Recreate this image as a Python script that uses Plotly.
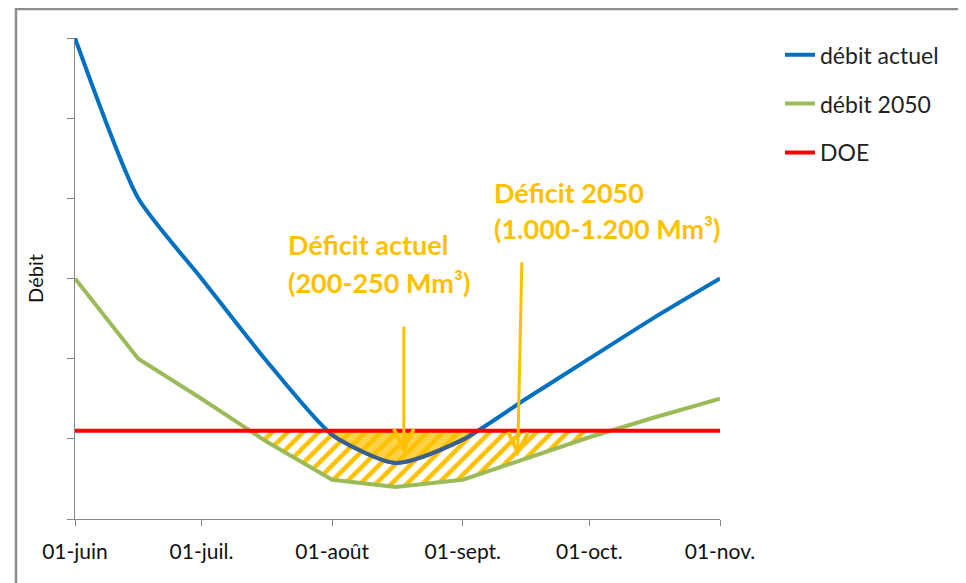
import plotly.graph_objects as go
import pandas as pd

# ---- data ----
dates = ["2020-06-01", "2020-06-16", "2020-07-01", "2020-07-16", "2020-08-01", "2020-08-16",
         "2020-09-01", "2020-09-16", "2020-10-01", "2020-10-16", "2020-11-01"]
debit_actuel = [6.0, 4.0, 3.0, 2.0, 1.05, 0.7, 0.99, 1.5, 2.0, 2.5, 3.0]
debit_2050 = [3.0, 2.0, 1.5, 0.98, 0.49, 0.4, 0.49, 0.75, 1.02, 1.26, 1.5]
doe_value = 1.1
doe = [doe_value] * len(dates)

tick_dates = ["2020-06-01", "2020-07-01", "2020-08-01", "2020-09-01", "2020-10-01", "2020-11-01"]
tick_labels = ["01-juin", "01-juil.", "01-août", "01-sept.", "01-oct.", "01-nov."]
y_ticks = [0, 1, 2, 3, 4, 5, 6]

series_names = ["débit actuel", "débit 2050", "DOE"]
label_actuel = ["Déficit actuel", "(200-250 Mm³)"]
label_2050 = ["Déficit 2050", "(1.000-1.200 Mm³)"]

BLUE = "#0070C0"
GREEN = "#9BBB59"
RED = "#FF0000"
ORANGE = "#FFC000"
DARKBLUE = "#3B5E8E"

ts = pd.to_datetime(dates)
t_num = [(t - ts[0]).days for t in ts]


def below_region(values, level):
    """Points of the series below level, plus the crossing points with level."""
    xs, ys = [], []
    for i in range(len(values)):
        v = values[i]
        if i > 0:
            p = values[i - 1]
            if (p - level) * (v - level) < 0:
                f = (p - level) / (p - v)
                d = t_num[i - 1] + f * (t_num[i] - t_num[i - 1])
                xs.append(ts[0] + pd.Timedelta(days=d))
                ys.append(level)
        if v < level:
            xs.append(ts[i])
            ys.append(v)
    return xs, ys


gx, gy = below_region(debit_2050, doe_value)
bx, by = below_region(debit_actuel, doe_value)

fig = go.Figure()

# hatched deficit 2050
fig.add_trace(go.Scatter(x=[gx[0], gx[-1]], y=[doe_value, doe_value], mode="lines",
                         line=dict(width=0), showlegend=False, hoverinfo="skip"))
fig.add_trace(go.Scatter(x=gx, y=gy, mode="lines", line=dict(width=0), fill="tonexty",
                         fillcolor="rgba(0,0,0,0)",
                         fillpattern=dict(shape="/", fgcolor=ORANGE, bgcolor="rgba(0,0,0,0)",
                                          fgopacity=1, size=11, solidity=0.42),
                         showlegend=False, hoverinfo="skip"))

fig.add_trace(go.Scatter(x=dates, y=debit_2050, mode="lines", name=series_names[1],
                         line=dict(color=GREEN, width=4), legendrank=2, legendgroup="g2"))
fig.add_trace(go.Scatter(x=dates, y=debit_actuel, mode="lines", name=series_names[0],
                         line=dict(color=BLUE, width=4, shape="spline", smoothing=0.6),
                         legendrank=1, legendgroup="g1"))

# solid deficit actuel
fig.add_trace(go.Scatter(x=[bx[0], bx[-1]], y=[doe_value, doe_value], mode="lines",
                         line=dict(width=0), showlegend=False, hoverinfo="skip"))
fig.add_trace(go.Scatter(x=bx, y=by, mode="lines", fill="tonexty",
                         fillcolor="rgba(255,192,0,0.72)",
                         line=dict(color=DARKBLUE, width=4, shape="spline", smoothing=0.8),
                         showlegend=False, hoverinfo="skip"))

fig.add_trace(go.Scatter(x=dates, y=doe, mode="lines", name=series_names[2],
                         line=dict(color=RED, width=4), legendrank=3, legendgroup="g3"))

# arrows (tail -> head) in data coordinates
arrows = [
    (("2020-08-18", 2.42), ("2020-08-18", 0.82)),
    (("2020-09-15", 3.22), ("2020-09-14", 0.78)),
]
for (tx, ty), (hx, hy) in arrows:
    fig.add_annotation(x=hx, y=hy, ax=tx, ay=ty, xref="x", yref="y", axref="x", ayref="y",
                       text="", showarrow=True, arrowhead=5, arrowsize=1.3, arrowwidth=3,
                       arrowcolor=ORANGE, standoff=0)

text_font = dict(family="Lato, Open Sans, sans-serif", size=27, color=ORANGE)
for line_txt, yv in zip(label_actuel, [3.425, 2.95]):
    fig.add_annotation(x="2020-07-21", y=yv, xref="x", yref="y", text="<b>" + line_txt + "</b>",
                       showarrow=False, xanchor="left", yanchor="middle", font=text_font)
for line_txt, yv in zip(label_2050, [4.075, 3.625]):
    fig.add_annotation(x="2020-09-08", y=yv, xref="x", yref="y", text="<b>" + line_txt + "</b>",
                       showarrow=False, xanchor="left", yanchor="middle", font=text_font)

# chart frame
fig.add_shape(type="rect", xref="paper", yref="paper", x0=-0.0915, y0=-0.3, x1=1.6, y1=1.0603,
              line=dict(color="#8c8c8c", width=2.5), fillcolor="rgba(0,0,0,0)", layer="below")

fig.update_layout(
    width=966, height=583,
    margin=dict(l=67, r=254, t=30, b=72),
    plot_bgcolor="white", paper_bgcolor="white",
    font=dict(family="Lato, Open Sans, sans-serif", color="#1a1a1a"),
    legend=dict(x=1.093, xanchor="left", y=1.01, yanchor="top",
                font=dict(size=23, color="#222"), tracegroupgap=16,
                bgcolor="rgba(0,0,0,0)"),
    xaxis=dict(type="date", range=[dates[0], dates[-1]], tickvals=tick_dates, ticktext=tick_labels,
               showline=True, linecolor="#878787", linewidth=1, ticks="outside", ticklen=6,
               tickcolor="#878787", showgrid=False, zeroline=False, ticklabelstandoff=8,
               tickfont=dict(size=21, color="#111")),
    yaxis=dict(range=[0, 6], tickvals=y_ticks, showticklabels=False, ticks="outside", ticklen=7,
               tickcolor="#878787", showline=True, linecolor="#878787", linewidth=1,
               showgrid=False, zeroline=False,
               title=dict(text="Débit", font=dict(size=20, color="#111"), standoff=18)),
)

fig.write_html("out.html")
